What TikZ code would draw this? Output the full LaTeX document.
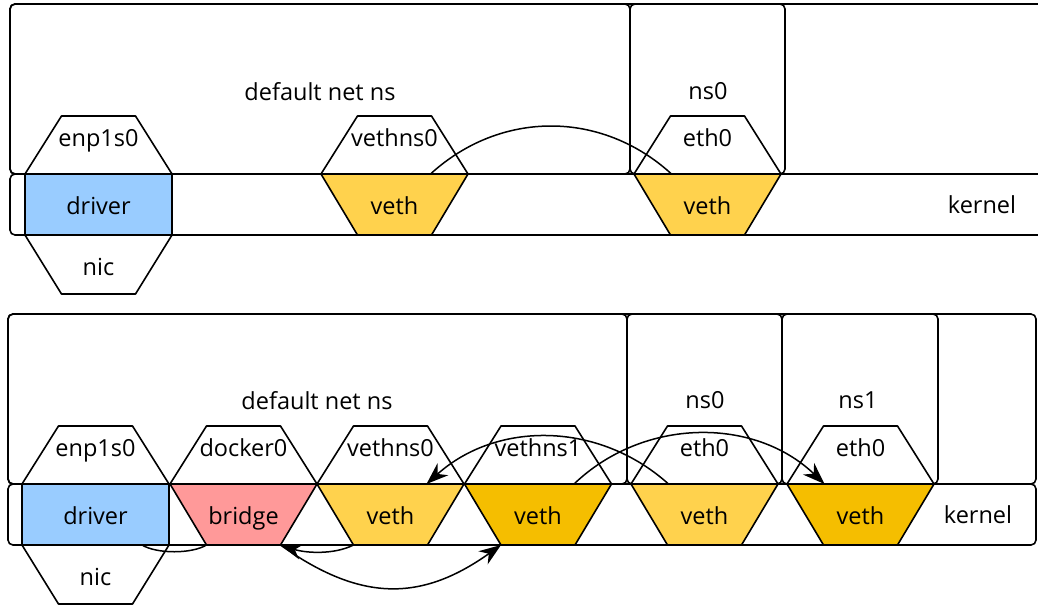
\documentclass[tikz,border=0pt]{standalone}
\usepackage{fontspec}
\setmainfont{Open Sans}
\usetikzlibrary{arrows.meta}

\definecolor{drvblue}{RGB}{153,204,255}
\definecolor{brpink}{RGB}{255,153,153}
\definecolor{vethlight}{RGB}{255,210,77}
\definecolor{vethdark}{RGB}{245,190,0}

\tikzset{
  x=1pt, y=-1pt,
  frame/.style={draw, line width=1.6pt, rounded corners=5pt},
  edge/.style={draw, line width=1.6pt, line join=round},
  txt/.style={font=\fontsize{23.5}{28}\selectfont, inner sep=0pt, anchor=base},
  link/.style={line width=1.5pt},
  tip/.style={-{Stealth[length=22pt,width=16pt,inset=7pt]}},
  % interface whose device part is a veth/bridge trapezoid
  pics/ifdev/.style n args={3}{code={
    \draw[edge, fill=white] (-73.5,0) -- (-37,-58) -- (37,-58) -- (73.5,0) -- cycle;
    \draw[edge, fill=#3] (-73.5,0) -- (73.5,0) -- (37,61) -- (-37,61) -- cycle;
    \node[txt] (-if) at (0,-28) {#1};
    \node[txt] (-dev) at (0,40) {#2};
    \coordinate (-ml) at (-36,0);
    \coordinate (-mr) at (36,0);
    \coordinate (-bl) at (-37,61);
    \coordinate (-br) at (37,61);
  }},
  % physical interface: driver block with the nic below
  pics/ifnic/.style={code={
    \draw[edge, fill=white] (-73.5,0) -- (-37,-58) -- (37,-58) -- (73.5,0) -- cycle;
    \draw[edge, fill=drvblue] (-73.5,0) rectangle (73.5,61);
    \draw[edge, fill=white] (-73.5,61) -- (73.5,61) -- (37,120) -- (-37,120) -- cycle;
    \node[txt] (-if) at (0,-28) {#1};
    \node[txt] (-dev) at (0,40) {driver};
    \node[txt] (-hw) at (0,101) {nic};
    \coordinate (-bs) at (46.5,61);
  }},
}

\begin{document}
\begin{tikzpicture}
\useasboundingbox (0,0) rectangle (1038,605);
\clip (0,0) rectangle (1038,605);

% ---------- single namespace ----------
\draw[frame] (10,4) rectangle (1080,174);
\draw[frame] (10,4) rectangle (630,174);
\draw[frame] (630,4) rectangle (785,174);
\draw[frame] (10,174) rectangle (1080,235);
\node[txt] (defA) at (320,100) {default net ns};
\node[txt] (ns0A) at (708,99) {ns0};
\node[txt] (kerA) at (982,213) {kernel};

\pic (nicA) at (98.5,174) {ifnic={enp1s0}};
\pic (v0A) at (394.5,174) {ifdev={vethns0}{veth}{vethlight}};
\pic (e0A) at (707.5,174) {ifdev={eth0}{veth}{vethlight}};

\draw[link] (v0A-mr) .. controls +(70,-64) and +(-70,-64) .. (e0A-ml);

% ---------- two namespaces behind a bridge ----------
\draw[frame] (8,314) rectangle (1036,484);
\draw[frame] (8,314) rectangle (627,484);
\draw[frame] (627,314) rectangle (782,484);
\draw[frame] (782,314) rectangle (938,484);
\draw[frame] (8,484) rectangle (1036,545);
\node[txt] (defB) at (317,409) {default net ns};
\node[txt] (ns0B) at (705,408) {ns0};
\node[txt] (ns1B) at (858,408) {ns1};
\node[txt] (kerB) at (978,523) {kernel};

\pic (nicB) at (95.5,484) {ifnic={enp1s0}};
\pic (br) at (243.5,484) {ifdev={docker0}{bridge}{brpink}};
\pic (v0B) at (390.5,484) {ifdev={vethns0}{veth}{vethlight}};
\pic (v1B) at (538,484) {ifdev={vethns1}{veth}{vethdark}};
\pic (e0B) at (704.5,484) {ifdev={eth0}{veth}{vethlight}};
\pic (e1B) at (860.5,484) {ifdev={eth0}{veth}{vethdark}};

\draw[link, tip] (v1B-mr) .. controls +(70,-67) and +(-70,-67) .. (e1B-ml);
\draw[link, tip] (e0B-ml) .. controls +(-70,-63) and +(70,-63) .. (v0B-mr);
\draw[link] (nicB-bs) .. controls +(15,9) and +(-15,9) .. (br-bl);
\draw[link, tip] (v0B-bl) .. controls +(-20,10) and +(25,8) .. (br-br);
\draw[link, tip] (br-br) .. controls +(80,57) and +(-80,57) .. (v1B-bl);
\end{tikzpicture}
\end{document}
